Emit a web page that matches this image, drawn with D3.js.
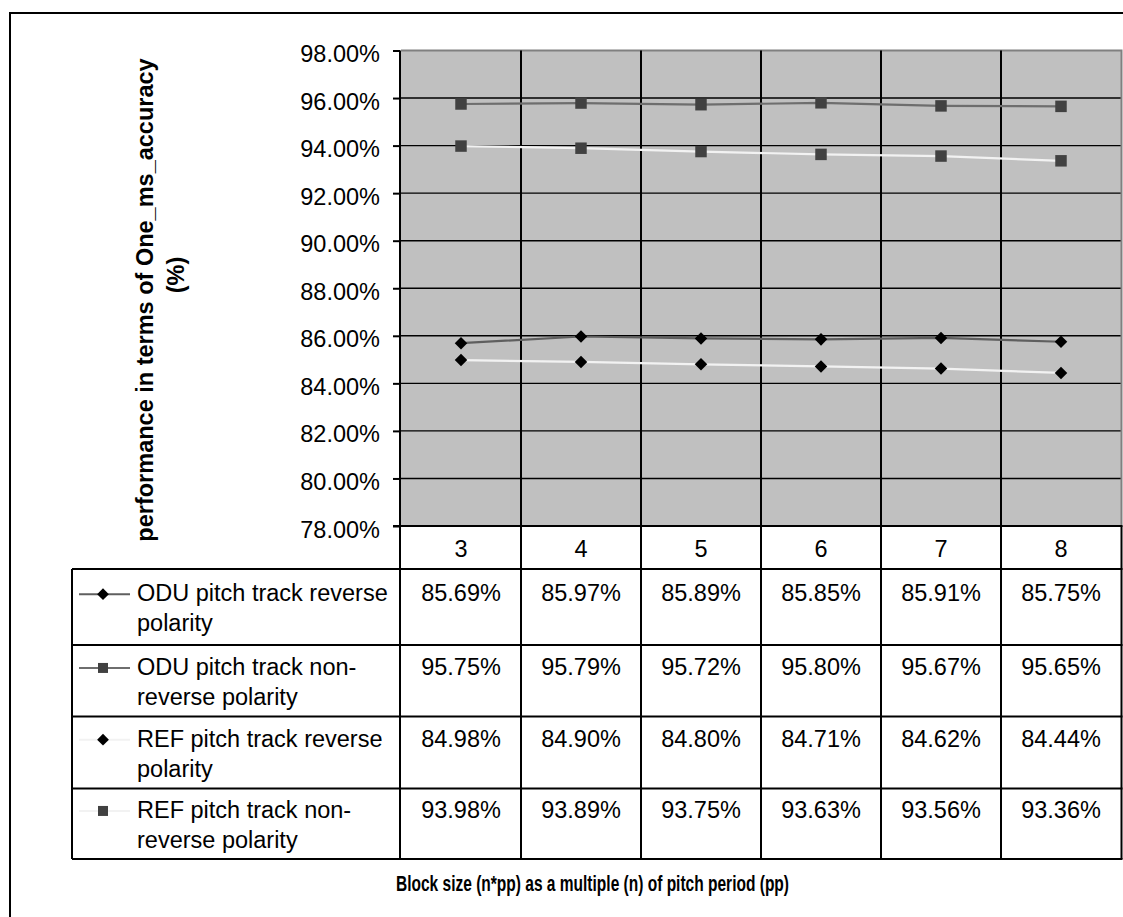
<!DOCTYPE html>
<html>
<head>
<meta charset="utf-8">
<script src="https://cdn.jsdelivr.net/npm/d3@7"></script>
<style>
  html, body { margin: 0; padding: 0; background: #ffffff; overflow: hidden; }
  svg { display: block; }
  text { font-family: "Liberation Sans", Arial, sans-serif; fill: #000; }
</style>
</head>
<body>
<svg id="chart" width="1123" height="917"></svg>
<script>
// Block-size multiples (n) along the category axis
const categories = ["3", "4", "5", "6", "7", "8"];

// One_ms_accuracy (%) for each pitch-track configuration
const oduReverse    = [85.69, 85.97, 85.89, 85.85, 85.91, 85.75];
const oduNonReverse = [95.75, 95.79, 95.72, 95.80, 95.67, 95.65];
const refReverse    = [84.98, 84.90, 84.80, 84.71, 84.62, 84.44];
const refNonReverse = [93.98, 93.89, 93.75, 93.63, 93.56, 93.36];

// Series names, wrapped as they appear in the data-table legend column
const seriesNames = [
  ["ODU pitch track reverse", "polarity"],
  ["ODU pitch track non-", "reverse polarity"],
  ["REF pitch track reverse", "polarity"],
  ["REF pitch track non-", "reverse polarity"]
];

// Value axis ticks
const yTicks = [78, 80, 82, 84, 86, 88, 90, 92, 94, 96, 98];

const yTitleLines = ["performance in terms of One_ms_accuracy", "(%)"];
const xTitle = "Block size (n*pp) as a multiple (n) of pitch period (pp)";

// ---- styling per series ----
const seriesStyle = [
  { values: oduReverse,    line: "#5f5f5f", marker: "diamond", fill: "#000000" },
  { values: oduNonReverse, line: "#6e6e6e", marker: "square",  fill: "#414141" },
  { values: refReverse,    line: "#f2f2f2", marker: "diamond", fill: "#000000" },
  { values: refNonReverse, line: "#f2f2f2", marker: "square",  fill: "#414141" }
];

const svg = d3.select("#chart");
const FS = 23.5;

// ---- layout ----
const plotLeft = 401, plotRight = 1121, plotTop = 50.5, plotBottom = 526;
const tableLeft = 72;
const rowEdges = [569, 645, 716.5, 788.5, 859];

const x = d3.scaleBand().domain(categories).range([plotLeft, plotRight]).padding(0);
const y = d3.scaleLinear().domain([78, 98]).range([plotBottom, plotTop]);

// outer chart frame: only the left and top edges fall inside the page
svg.append("path")
  .attr("d", "M10,917V13H1123")
  .attr("fill", "none").attr("stroke", "#000").attr("stroke-width", 2);

// plot background
svg.append("rect")
  .attr("x", plotLeft).attr("y", plotTop)
  .attr("width", plotRight - plotLeft).attr("height", plotBottom - plotTop)
  .attr("fill", "#c0c0c0");

// horizontal gridlines
svg.append("g").selectAll("line")
  .data(yTicks.filter(t => t !== 78 && t !== 98))
  .join("line")
  .attr("x1", plotLeft).attr("x2", plotRight)
  .attr("y1", d => y(d)).attr("y2", d => y(d))
  .attr("stroke", "#000").attr("stroke-width", 1.4);

// plot border top / right (grey)
svg.append("path")
  .attr("d", `M${plotLeft},${plotTop}H${plotRight + 0.5}V${plotBottom}`)
  .attr("fill", "none").attr("stroke", "#808080").attr("stroke-width", 2);

// value axis
const yAxis = d3.axisLeft(y)
  .tickValues(yTicks)
  .tickSize(7)
  .tickPadding(13)
  .tickFormat(d => d.toFixed(2) + "%");
const yg = svg.append("g").attr("transform", `translate(${plotLeft - 1},0)`).call(yAxis);
yg.select(".domain").remove();
yg.selectAll(".tick line").attr("stroke", "#000").attr("stroke-width", 2);
yg.selectAll(".tick text")
  .attr("font-size", FS)
  .attr("font-family", "Liberation Sans, Arial, sans-serif")
  .attr("fill", "#000")
  .attr("dy", null)
  .attr("y", 11);

// vertical lines at category edges, through plot and data table
const edges = categories.map(c => x(c)).concat([x.range()[1]]);
svg.append("g").selectAll("line")
  .data(edges.slice(1, -1))
  .join("line")
  .attr("x1", d => d).attr("x2", d => d)
  .attr("y1", plotTop).attr("y2", rowEdges[rowEdges.length - 1])
  .attr("stroke", "#000").attr("stroke-width", 2);

// axis line (left), extends through the table
svg.append("line")
  .attr("x1", plotLeft - 1).attr("x2", plotLeft - 1)
  .attr("y1", plotTop).attr("y2", rowEdges[rowEdges.length - 1])
  .attr("stroke", "#000").attr("stroke-width", 2);

// category axis line / header top
svg.append("line")
  .attr("x1", plotLeft - 8).attr("x2", plotRight + 1.5)
  .attr("y1", plotBottom).attr("y2", plotBottom)
  .attr("stroke", "#000").attr("stroke-width", 2);

// table right border
svg.append("line")
  .attr("x1", plotRight + 0.5).attr("x2", plotRight + 0.5)
  .attr("y1", plotBottom).attr("y2", rowEdges[rowEdges.length - 1])
  .attr("stroke", "#000").attr("stroke-width", 2);

// table row lines
svg.append("g").selectAll("line")
  .data(rowEdges)
  .join("line")
  .attr("x1", tableLeft).attr("x2", plotRight + 1.5)
  .attr("y1", d => d).attr("y2", d => d)
  .attr("stroke", "#000").attr("stroke-width", 2);

// table left border
svg.append("line")
  .attr("x1", tableLeft).attr("x2", tableLeft)
  .attr("y1", rowEdges[0]).attr("y2", rowEdges[rowEdges.length - 1])
  .attr("stroke", "#000").attr("stroke-width", 2);

// category header labels
svg.append("g").selectAll("text")
  .data(categories)
  .join("text")
  .attr("x", d => x(d) + x.bandwidth() / 2)
  .attr("y", (plotBottom + rowEdges[0]) / 2 + 9)
  .attr("text-anchor", "middle")
  .attr("font-size", FS)
  .text(d => d);

// marker generators
const diamond = d3.symbol().type(d3.symbolDiamond2).size(100);
const legendDiamond = d3.symbol().type(d3.symbolDiamond2).size(88);
const square = d3.symbol().type(d3.symbolSquare).size(132);
const legendSquare = d3.symbol().type(d3.symbolSquare).size(100);
const markerPath = (s, legend) =>
  s.marker === "diamond"
    ? (legend ? legendDiamond() : diamond())
    : (legend ? legendSquare() : square());

// series lines and markers
const lineGen = d3.line()
  .x((d, i) => x(categories[i]) + x.bandwidth() / 2)
  .y(d => y(d));

const seriesG = svg.append("g");
seriesStyle.forEach(s => {
  seriesG.append("path")
    .attr("d", lineGen(s.values))
    .attr("fill", "none")
    .attr("stroke", s.line)
    .attr("stroke-width", 2.2);
});
seriesStyle.forEach(s => {
  seriesG.append("g").selectAll("path")
    .data(s.values)
    .join("path")
    .attr("transform", (d, i) => `translate(${x(categories[i]) + x.bandwidth() / 2},${y(d)})`)
    .attr("d", markerPath(s, false))
    .attr("fill", s.fill);
});

// data table rows: legend key, series name, values
seriesStyle.forEach((s, r) => {
  const mid = (rowEdges[r] + rowEdges[r + 1]) / 2;
  const base = mid - 5.8;
  const g = svg.append("g");

  // legend key
  g.append("line")
    .attr("x1", 79).attr("x2", 130)
    .attr("y1", base - 7).attr("y2", base - 7)
    .attr("stroke", s.line).attr("stroke-width", 2);
  g.append("path")
    .attr("transform", `translate(103,${base - 7})`)
    .attr("d", markerPath(s, true))
    .attr("fill", s.fill);

  // series name (two lines)
  const t = g.append("text")
    .attr("x", 137).attr("y", base)
    .attr("font-size", FS);
  seriesNames[r].forEach((ln, k) => {
    t.append("tspan").attr("x", 137).attr("y", base + k * 30).text(ln);
  });

  // values
  g.selectAll("text.v")
    .data(s.values)
    .join("text")
    .attr("class", "v")
    .attr("x", (d, i) => x(categories[i]) + x.bandwidth() / 2)
    .attr("y", base)
    .attr("text-anchor", "middle")
    .attr("font-size", FS)
    .text(d => d.toFixed(2) + "%");
});

// value axis title (rotated, two lines)
svg.append("text")
  .attr("transform", "translate(153,300) rotate(-90)")
  .attr("text-anchor", "middle")
  .attr("font-size", FS)
  .attr("font-weight", "bold")
  .text(yTitleLines[0]);
svg.append("text")
  .attr("transform", "translate(184,275) rotate(-90)")
  .attr("text-anchor", "middle")
  .attr("font-size", FS)
  .attr("font-weight", "bold")
  .text(yTitleLines[1]);

// category axis title (condensed bold)
svg.append("text")
  .attr("x", 396).attr("y", 891)
  .attr("font-size", 22.5)
  .attr("font-weight", "bold")
  .attr("textLength", 393)
  .attr("lengthAdjust", "spacingAndGlyphs")
  .text(xTitle);
</script>
</body>
</html>
